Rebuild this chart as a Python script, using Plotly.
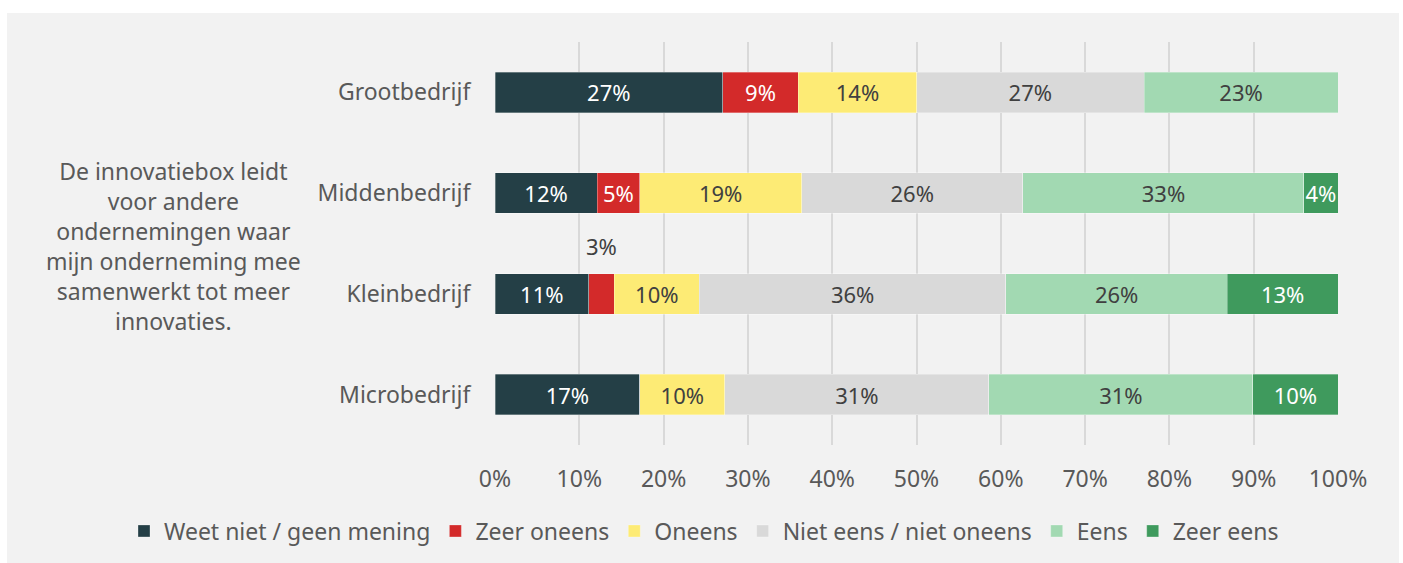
import plotly.graph_objects as go

# Survey categories (top to bottom) and answer shares in percent
companies = ["Grootbedrijf", "Middenbedrijf", "Kleinbedrijf", "Microbedrijf"]
answers = ["Weet niet / geen mening", "Zeer oneens", "Oneens",
           "Niet eens / niet oneens", "Eens", "Zeer eens"]

weet_niet = [27, 12, 11, 17]
zeer_oneens = [9, 5, 3, 0]
oneens = [14, 19, 10, 10]
neutraal = [27, 26, 36, 31]
eens = [23, 33, 26, 31]
zeer_eens = [0, 4, 13, 10]

series = [weet_niet, zeer_oneens, oneens, neutraal, eens, zeer_eens]
colors = ["#243f46", "#d32a2a", "#fdeb75", "#d9d9d9", "#a2d9b2", "#3f9a5d"]
text_colors = ["#ffffff", "#ffffff", "#404040", "#404040", "#404040", "#ffffff"]

question = ("De innovatiebox leidt<br>voor andere<br>ondernemingen waar<br>"
            "mijn onderneming mee<br>samenwerkt tot meer<br>innovaties.")

FONT = "Noto Sans"
SIZE = 23
GREY = "#595959"

fig = go.Figure()
for name, vals, col, tcol in zip(answers, series, colors, text_colors):
    labels = []
    for comp, v in zip(companies, vals):
        # the tiny Kleinbedrijf segment gets its label above the bar instead
        if v == 0 or (name == "Zeer oneens" and comp == "Kleinbedrijf"):
            labels.append("")
        else:
            labels.append(f"{v}%")
    fig.add_trace(go.Bar(
        name=name, y=companies, x=vals, orientation="h",
        marker=dict(color=col, line=dict(color="rgba(255,255,255,0.5)", width=0.6)),
        text=labels, textposition="inside", insidetextanchor="middle",
        textangle=0,
        textfont=dict(family=FONT, size=SIZE - 1, color=tcol),
        hoverinfo="skip", width=0.4,
    ))

# label for the small "Zeer oneens" share of Kleinbedrijf, placed above its segment
k = companies.index("Kleinbedrijf")
row_total = sum(s[k] for s in series)
mid = (weet_niet[k] + zeer_oneens[k] / 2) / row_total * 100
fig.add_annotation(x=mid, y=companies[k], xref="x", yref="y", yshift=48,
                   text=f"{zeer_oneens[k]}%", showarrow=False,
                   font=dict(family=FONT, size=SIZE - 1, color="#404040"))

# question text on the left
fig.add_annotation(x=-0.381, y=0.4926, xref="paper", yref="paper",
                   text=question, showarrow=False, align="center",
                   xanchor="center", yanchor="middle",
                   font=dict(family=FONT, size=SIZE, color=GREY))

# light grey panel behind the chart
fig.add_shape(type="rect", xref="paper", yref="paper",
              x0=(7 - 495) / 843, x1=(1399 - 495) / 843,
              y0=-0.3, y1=(446 - 13) / 404,
              fillcolor="#f2f2f2", line=dict(width=0), layer="below")

fig.update_layout(
    barmode="stack", barnorm="percent",
    width=1403, height=563,
    margin=dict(l=495, r=65, t=42, b=117),
    paper_bgcolor="#ffffff", plot_bgcolor="rgba(0,0,0,0)",
    font=dict(family=FONT, size=SIZE, color=GREY),
    uniformtext=dict(minsize=SIZE - 1, mode="show"),
    showlegend=True,
    legend=dict(orientation="h", xref="paper", yref="paper",
                x=(124 - 495) / 843, xanchor="left",
                y=(446 - 531) / 404, yanchor="middle",
                font=dict(family=FONT, size=SIZE, color=GREY),
                traceorder="normal", itemwidth=30, bgcolor="rgba(0,0,0,0)"),
    xaxis=dict(range=[0, 100], dtick=10, ticksuffix="%",
               showgrid=True, gridcolor="#d9d9d9", gridwidth=1.5,
               zeroline=False, showline=False,
               ticks="outside", ticklen=13, tickcolor="rgba(0,0,0,0)",
               tickfont=dict(family=FONT, size=SIZE, color=GREY),
               fixedrange=True),
    yaxis=dict(autorange="reversed", showgrid=False, zeroline=False,
               ticks="outside", ticklen=19, tickcolor="rgba(0,0,0,0)",
               tickfont=dict(family=FONT, size=SIZE, color=GREY),
               fixedrange=True),
)

fig.write_html("out.html")
